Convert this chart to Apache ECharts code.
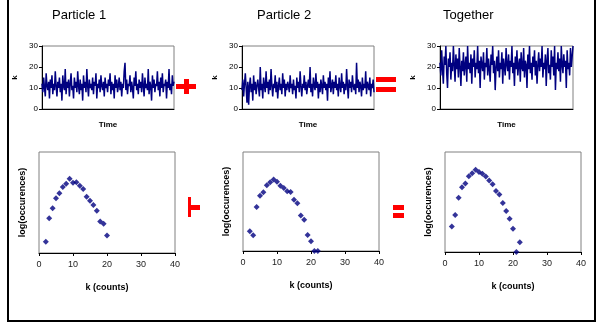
<!DOCTYPE html>
<html>
<head>
<meta charset="utf-8">
<script src="https://cdn.jsdelivr.net/npm/echarts@6/dist/echarts.min.js"></script>
<style>
  html, body { margin: 0; padding: 0; background: #fff; }
  #chart { width: 597px; height: 326px; }
</style>
</head>
<body>
<div id="chart"></div>
<script>
// k per time step
const particle1 = [
  12,8,15,10,6,17,11,9,13,5,14,10,16,7,12,9,18,11,6,13,
  10,15,8,12,4,16,11,9,19,7,13,10,14,6,12,17,9,11,5,15,
  10,13,8,18,11,7,14,9,12,4,16,10,13,8,19,11,6,14,10,12,
  9,15,7,13,11,17,5,12,10,14,8,16,11,9,13,6,15,10,12,8,
  14,11,17,7,13,9,12,5,16,10,14,8,11,15,9,13,6,12,10,18,
  22,9,14,7,12,11,16,8,13,10,5,15,11,18,9,12,7,14,10,13,
  8,17,11,6,15,10,12,9,19,7,13,11,4,16,10,14,8,12,11,18,
  9,13,6,15,10,17,8,12,11,14,5,13,10,19,9,12,7,16,11,13
]
const particle2 = [
  9,14,6,12,17,10,3,13,2,11,15,8,12,4,16,9,13,7,11,14,
  10,6,20,9,12,5,15,11,8,18,10,13,7,14,9,19,11,6,12,10,
  16,8,13,5,11,15,9,12,7,17,10,14,6,12,9,13,11,8,16,10,
  12,7,14,9,11,5,15,10,13,8,18,11,6,12,10,16,9,13,7,11,
  14,10,20,8,12,6,15,11,9,17,10,13,5,12,8,14,11,7,16,10,
  13,9,12,4,15,10,18,8,11,14,7,13,10,16,9,12,6,15,11,8,
  17,10,13,7,12,9,19,11,5,14,10,13,8,16,11,9,12,7,22,10,
  14,8,13,11,6,15,9,12,10,18,7,13,11,9,15,6,12,10,14,8
]
const together = [
  22,16,28,19,12,25,21,30,17,10,24,20,27,14,22,18,30,21,13,26,
  19,24,15,29,20,11,23,18,27,16,21,25,13,30,19,22,17,26,12,24,
  20,28,15,22,19,30,17,23,10,25,21,18,27,14,22,20,29,16,24,19,
  13,26,21,30,17,23,9,20,25,18,28,15,22,19,27,12,24,20,16,29,
  21,18,26,14,23,20,30,17,22,11,25,19,28,16,21,24,13,27,20,18,
  29,15,23,21,10,26,19,30,17,22,14,25,20,28,16,23,12,21,27,18,
  24,20,30,15,22,19,26,11,23,29,17,21,14,28,20,25,16,30,9,22,
  19,27,18,24,13,30,21,17,26,20,23,10,28,19,22,16,29,20,25,30
]

// histograms: k (counts) vs log(occurences)
const kCounts = [2,3,4,5,6,7,8,9,10,11,12,13,14,15,16,17,18,19,20,21,22]
const logOcc1 = [0.45,1.38,1.77,2.17,2.37,2.61,2.74,2.94,2.78,2.80,2.66,2.53,2.23,2.07,1.90,1.67,1.25,1.16,0.69]
const logOcc2 = [0.80,0.64,1.78,2.23,2.37,2.66,2.78,2.89,2.80,2.64,2.55,2.41,2.38,2.07,1.93,1.43,1.26,0.65,0.39,0,0]
const logOcc3 = [1.02,1.48,2.17,2.59,2.74,3.03,3.15,3.29,3.20,3.13,3.02,2.86,2.71,2.44,2.30,1.96,1.64,1.33,0.93,0,0.39]

const titles = ['Particle 1', 'Particle 2', 'Together']
const kTicks = [0, 10, 20, 30, 40]

const navy = '#000080'
const font = 'Liberation Sans, Arial, sans-serif'

const topGrids = [
  { left: 42, top: 46, width: 132, height: 63 },
  { left: 242, top: 46, width: 132, height: 63 },
  { left: 440, top: 46, width: 133, height: 63 }
]
const bottomGrids = [
  { left: 39, top: 152, width: 136, height: 101 },
  { left: 243, top: 152, width: 136, height: 99 },
  { left: 445, top: 152, width: 136, height: 100 }
]

const traces = [particle1, particle2, together]
const hists = [logOcc1, logOcc2, logOcc3]
const titleX = [52, 257, 443]

const grid = []
const xAxis = []
const yAxis = []
const series = []

traces.forEach((vals, i) => {
  grid.push(Object.assign({ show: true, borderColor: '#808080', borderWidth: 1 }, topGrids[i]))
  xAxis.push({
    gridIndex: i,
    type: 'category',
    boundaryGap: false,
    data: vals.map((v, j) => j),
    name: 'Time',
    nameLocation: 'middle',
    nameGap: 12,
    nameTextStyle: { fontFamily: font, fontSize: 8, fontWeight: 'bold', color: '#000' },
    axisLine: { lineStyle: { color: '#000', width: 1 } },
    axisTick: { show: false },
    axisLabel: { show: false },
    splitLine: { show: false }
  })
  yAxis.push({
    gridIndex: i,
    type: 'value',
    min: 0,
    max: 30,
    interval: 10,
    name: 'k',
    nameLocation: 'middle',
    nameGap: 23,
    nameTextStyle: { fontFamily: font, fontSize: 8, fontWeight: 'bold', color: '#000' },
    axisLine: { show: true, lineStyle: { color: '#000', width: 1 } },
    axisTick: { show: true, length: 3, lineStyle: { color: '#000' } },
    axisLabel: { fontFamily: font, fontSize: 8, color: '#000', margin: 4 },
    splitLine: { show: false }
  })
  series.push({
    type: 'line',
    xAxisIndex: i,
    yAxisIndex: i,
    data: vals,
    showSymbol: false,
    animation: false,
    clip: true,
    lineStyle: { color: navy, width: 1.5 }
  })
})

hists.forEach((vals, i) => {
  const gi = i + 3
  grid.push(Object.assign({ show: true, borderColor: '#808080', borderWidth: 1 }, bottomGrids[i]))
  xAxis.push({
    gridIndex: gi,
    type: 'value',
    min: kTicks[0],
    max: kTicks[kTicks.length - 1],
    interval: 10,
    name: 'k (counts)',
    nameLocation: 'middle',
    nameGap: 30,
    nameTextStyle: { fontFamily: font, fontSize: 9, fontWeight: 'bold', color: '#000' },
    axisLine: { onZero: false, lineStyle: { color: '#000', width: 1 } },
    axisTick: { show: true, length: 3, lineStyle: { color: '#000' } },
    axisLabel: { fontFamily: font, fontSize: 9, color: '#222', margin: 7 },
    splitLine: { show: false }
  })
  yAxis.push({
    gridIndex: gi,
    type: 'value',
    min: 0,
    max: 4,
    name: 'log(occurences)',
    nameLocation: 'middle',
    nameGap: 12,
    nameTextStyle: { fontFamily: font, fontSize: 9, fontWeight: 'bold', color: '#000' },
    axisLine: { show: false },
    axisTick: { show: false },
    axisLabel: { show: false },
    splitLine: { show: false }
  })
  series.push({
    type: 'scatter',
    xAxisIndex: gi,
    yAxisIndex: gi,
    data: vals.map((v, j) => [kCounts[j], v]),
    symbol: 'diamond',
    symbolSize: 6,
    animation: false,
    itemStyle: { color: navy }
  })
})

const red = '#ff0000'
const graphic = [
  // frame
  { type: 'rect', shape: { x: 8, y: -10, width: 587, height: 331 }, style: { fill: null, stroke: '#000', lineWidth: 2 } },
  // top "+" and "="
  { type: 'rect', shape: { x: 176, y: 84, width: 20, height: 5 }, style: { fill: red } },
  { type: 'rect', shape: { x: 184, y: 79, width: 5, height: 15 }, style: { fill: red } },
  { type: 'rect', shape: { x: 376, y: 77, width: 20, height: 5 }, style: { fill: red } },
  { type: 'rect', shape: { x: 376, y: 87, width: 20, height: 5 }, style: { fill: red } },
  // bottom clipped "+" and "="
  { type: 'rect', shape: { x: 188, y: 197, width: 3, height: 20 }, style: { fill: red } },
  { type: 'rect', shape: { x: 188, y: 205, width: 12, height: 5 }, style: { fill: red } },
  { type: 'rect', shape: { x: 393, y: 205, width: 11, height: 5 }, style: { fill: red } },
  { type: 'rect', shape: { x: 393, y: 213, width: 11, height: 5 }, style: { fill: red } }
]
titles.forEach((t, i) => {
  graphic.push({
    type: 'text',
    left: titleX[i],
    top: 9,
    style: { text: t, fontFamily: font, fontSize: 13, fill: '#000' }
  })
})

const myChart = echarts.init(document.getElementById('chart'))
myChart.setOption({
  backgroundColor: '#fff',
  animation: false,
  grid,
  xAxis,
  yAxis,
  series,
  graphic
})
</script>
</body>
</html>
